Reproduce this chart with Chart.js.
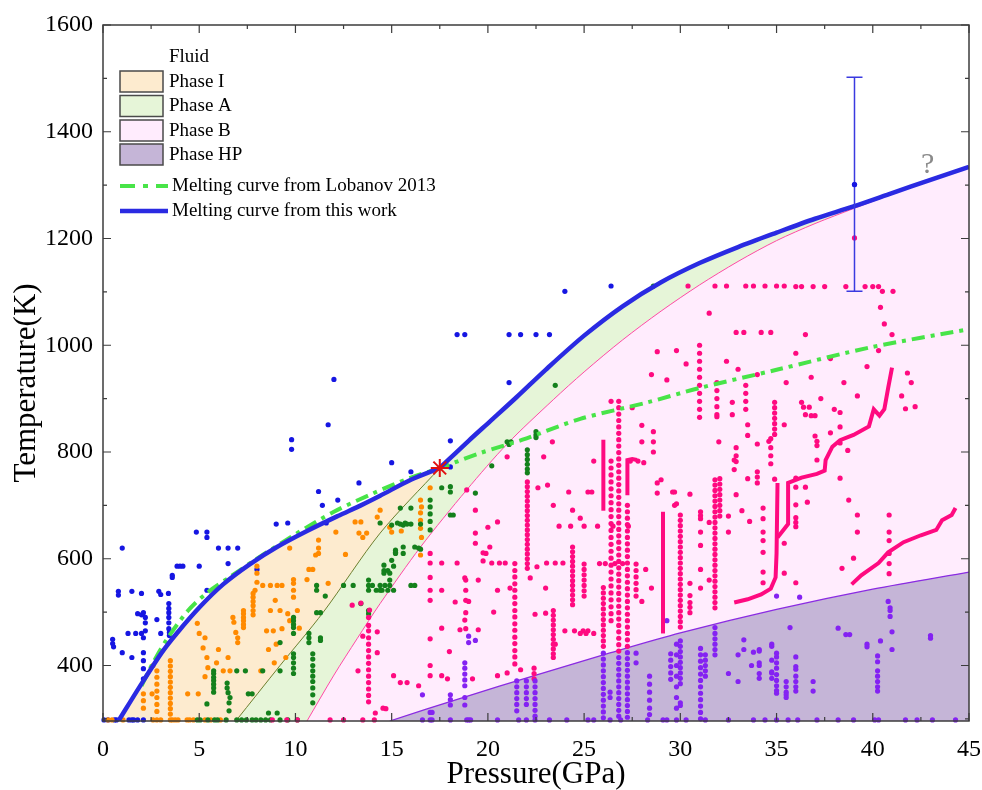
<!DOCTYPE html>
<html>
<head>
<meta charset="utf-8">
<script src="https://cdn.jsdelivr.net/npm/chart.js@4.4.0/dist/chart.umd.min.js"></script>
<style>
  html, body { margin: 0; background: #fff; }
  canvas { display: block; }
</style>
</head>
<body>
<canvas id="phase-chart" width="982" height="790"></canvas>
<script>
'use strict';

// axes
const xTicks = [0, 5, 10, 15, 20, 25, 30, 35, 40, 45];
const yTicks = [400, 600, 800, 1000, 1200, 1400, 1600];

// boundary curves, [P (GPa), T (K)]
const meltThisWorkLow = [[0.8,296],[1.9,360],[3.07,425],[3.85,461],[5.04,510],[6.24,552],[7.64,590],[9.04,622],[10.6,652],[12.2,680],[13.4,700],[14.4,718],[16.0,748],[17.5,770]];
const meltThisWorkHigh = [[17.5,770],[19,821],[20.1,857],[21.5,903],[23,954],[25,1018],[27,1073],[29,1118],[31,1154],[33,1184],[35,1211],[37,1237],[39,1260],[41,1285],[43,1310],[45,1334]];
const meltLobanov = [[2.0,362],[2.6,405],[3.3,448],[4.4,502],[5.4,536],[6.6,566],[8.0,600],[10.0,646],[12.0,688],[14.0,722],[16.0,752],[17.5,770],[19.6,798],[21.8,823],[24.8,862],[28.3,893],[31,920],[35,954],[40,997],[45,1030]];
const boundaryIA = [[6.9,296],[9.2,400],[11.45,500],[14.4,648],[17.5,770]];
const boundaryAB = [[10.6,296],[12,382],[13.2,450],[14.4,516],[16.5,622],[18.9,729],[21,815],[23.4,898],[25,950],[27,1010],[29,1064],[31,1113],[33,1157],[35,1196],[37,1228],[39,1256],[41,1283],[43,1309],[45,1334]];
const boundaryBHP = [[14.9,296],[18.7,340],[22.5,382],[26.3,423],[30,461],[35,505],[40,543],[45,575]];
const triplePoint = [[17.5,770]];
const errPoint = [39.05, 1301, 1101, 1502]; // P, T, Tlow, Thigh

// measured points
const fluidPts = [[0.05,298],[0.26,298],[0.6,298],[0.7,298],[1.35,298],[1.5,298],[1.6,298],[1.8,298],[2.1,298],
  [0.5,449],[0.5,441],[0.55,435],[1.0,424],[1.5,415],[2.1,424],[2.1,409],[2.1,394],[2.1,375],
  [1.3,460],[1.7,460],[2.0,460],[2.1,452],[3.0,460],[1.8,497],[2.0,495],[2.1,499],[2.2,490],[2.2,480],[2.2,465],[2.8,486],
  [3.42,516],[3.42,507],[3.42,499],[3.42,490],[3.42,480],[3.42,469],[3.45,462],[3.45,456],
  [0.8,539],[0.8,532],[1.5,539],[2.0,535],[2.9,539],[3.0,533],[3.4,535],
  [3.6,569],[3.6,565],[3.85,586],[4.0,586],[4.15,586],[5.0,586],[5.4,541],
  [1.0,620],[4.85,650],[5.4,650],[5.4,640],[6.0,620],[6.5,620],[7.0,620],[6.5,591],[8.0,580],
  [9.0,665],[9.6,667],[11.6,667],[11.4,700],[12.2,710],[11.2,726],
  [9.8,823],[9.8,805],[11.7,851],[12.0,936],[13.3,742],[15.0,780],[16.0,763],[18.05,821],[18.05,772],
  [18.4,1020],[18.8,1020],[21.1,1020],[21.7,1020],[22.5,1020],[23.2,1020],[21.1,930],[24.0,1101],[26.4,1111],[39.05,1301]];

const phaseIPts = [[0.26,298],[0.47,298],[1.04,298],[2.6,298],[2.8,298],[3.0,298],[3.5,298],[3.6,298],[3.75,298],[3.9,298],[4.37,298],[4.5,298],[4.7,298],[5.3,298],[5.6,298],[6.1,298],
  [2.1,347],[2.1,334],[2.1,320],[2.55,347],[2.6,400],
  [4.4,347],[4.95,347],[4.9,479],[5.0,460],[5.3,452],[5.2,433],[5.4,415],[5.45,396],[5.3,379],
  [6.25,390],[6.6,390],[8.2,390],[6.9,462],[7.0,452],[7.0,443],[6.75,490],[6.8,481],[6.0,430],[6.5,415],[5.9,405],
  [7.9,541],[8.3,550],[8.7,550],[9.05,550],[9.3,550],[8.0,556],[8.0,573],[8.0,586],
  [9.7,620],[10.9,580],[10.7,580],[9.9,561],[9.9,554],[10.6,561],[11.7,554],[9.9,541],[9.9,528],[8.95,522],
  [8.5,465],[8.85,465],[9.3,469],[8.7,503],[9.2,503],[9.6,497],[10.1,503],[9.7,484],
  [8.6,430],[9.0,440],[9.5,415],[8.9,405],[10.2,470],
  [11.2,635],[11.2,620],[11.2,610],[11.05,607],[12.6,608],[12.1,650],
  [13.1,669],[13.4,669],[13.3,648],[13.5,640],[13.7,648],[14.25,678],[14.4,691],
  [17.0,733],[16.5,710],[16.55,697],[16.5,686],[16.5,672],[16.5,657],[16.55,640],[15.0,650],[15.5,652],[14.9,659],[16.5,607]];
const phaseICols = [[2.8,[390,378,365,352,340,327,314]],[3.5,[409,399,389,379,369,359,349,339,329,319,309]],
  [7.3,[503,497,490,484,477,471]],[7.8,[535,528,520,512,503,495]]];

const phaseAPts = [[4.9,298],[5.05,298],[5.45,298],[5.8,298],[5.95,298],[6.4,298],[6.95,298],[7.2,298],[7.45,298],[7.75,298],[7.95,298],[8.2,298],[8.45,298],[8.7,298],[9.2,298],[9.6,298],[10.1,298],
  [5.4,328],[6.5,349],[6.6,340],[6.55,330],[6.55,315],[7.55,347],[7.75,347],[8.6,311],[9.05,311],
  [6.95,390],[7.4,390],[8.3,390],[9.2,390],[9.2,443],[11.3,452],[11.3,447],
  [11.1,550],[11.1,541],[11.55,530],[11.1,499],[11.3,499],[12.5,550],[13.0,550],
  [13.8,560],[13.8,550],[13.8,541],[14.0,550],[14.2,541],[14.4,541],[14.65,550],[14.9,550],[15.1,541],
  [13.4,516],[13.8,503],[13.8,497],[14.6,588],[14.6,578],[14.8,578],[15.2,616],[15.2,612],[15.6,610],
  [14.4,667],[15.0,663],[15.3,667],[15.6,663],[15.7,667],
  [15.45,695],[16.0,695],[16.0,665],[15.45,665],[15.8,665],[16.5,665],
  [17.6,733],[18.05,735],[18.05,725],[18.05,682],[18.2,682],[19.35,723],[20.2,774],
  [16.2,622],[16.4,620],[16.5,618],[15.6,622],[15.2,610],
  [15.0,597],[15.1,586],[14.9,573],[14.6,573],[14.9,560],[14.4,550],[14.5,541],[14.8,541],[16.0,550],[16.2,550],
  [21.0,819],[21.1,814],[21.2,819],[22.5,838],[22.5,832],[22.5,827],[23.5,925],[28.6,1111]];
const phaseACols = [[5.75,[390,385,378,372,365,358,350]],[6.45,[367,358]],[9.9,[490,484,477,471,460,422,415,405,395,385]],
  [10.7,[460,452,443]],[10.9,[422,412,400,390,380,370,358,345,330]],[17.0,[710,697,684,670,654]],[22.05,[804,795,786,777,768,761]]];

const phaseBPts = [[8.8,298],[9.55,298],[10.1,298],[11.8,298],[12.5,298],[13.5,298],[14.1,298],
  [12.95,513],[13.4,517],[13.85,504],[13.5,455],[14.25,463],[13.25,390],[14.25,424],[14.15,311],[14.55,320],[15.45,368],
  [17.6,541],[17.6,470],[17.6,381],[18.9,729],[19.35,691],[19.35,648],[19.35,629],
  [20.0,659],[20.5,669],[20.1,622],[19.9,610],[20.2,592],[20.9,592],[19.5,560],[20.5,541],[18.3,519],[19.0,520],[20.3,500],
  [15.1,381],[15.8,368],[16.4,362],[14.7,319],[17.9,375],[19.2,375],[20.5,381],[18.0,426],[18.8,485],[18.55,467],[19.5,467],
  [17.6,592],[18.4,592],[18.8,564],[19.75,611],[19.75,596],[20.6,592],[21.15,545],[22.2,564],[22.55,585],[23.0,545],[23.05,592],
  [23.5,592],[23.9,592],[22.45,496],[23.0,498],[24.0,465],[24.5,465],[24.95,465],[25.2,465],[21.0,386],[21.7,392],
  [23.35,819],[22.9,791],[23.1,738],[22.6,733],[21.0,791],[23.4,700],[24.2,725],[25.2,725],[25.4,725],[24.4,691],[24.8,676],
  [23.7,661],[24.3,661],[25.0,661],[25.7,661],[26.5,661],[27.3,661],
  [25.5,783],[27.4,783],[27.8,783],[28.1,780],[28.0,819],[28.0,850],[27.5,883],[26.4,895],
  [28.8,742],[28.8,723],[29.0,748],[29.7,725],[29.7,700],[25.8,591],[26.1,591],[26.6,591],[27.0,591],[28.2,580],[28.5,545],[28.0,520],
  [24.8,460],[25.1,460],[25.5,460],[23.5,440],
  [29.6,725],[29.8,703],[30.5,721],[30.5,554],[30.5,531],[30.5,518],[30.5,509],[30.5,499],
  [31.5,668],[31.5,560],[32.5,680],[32.5,650],[31.9,866],[32.0,819],[32.7,893],[32.7,870],[32.8,785],[32.8,767],
  [32.9,808],[32.9,793],[32.9,782],[32.9,720],[33.5,851],[33.5,831],[33.5,750],[34.0,815],[34.0,763],[34.0,753],[34.0,742],
  [34.7,825],[34.6,820],[34.7,808],[34.7,793],[34.7,778],[34.9,749],[35.4,851],[35.4,629],[35.4,573],
  [36.0,751],[36.0,734],[36.0,701],[36.0,677],[36.0,668],[36.0,660],[36.0,555],[36.3,893],[36.4,884],[36.5,870],[36.5,734],[36.6,706],
  [36.7,884],[36.8,868],[37.0,868],[37.0,830],[37.1,820],[37.1,812],[37.1,785],[37.8,836],[38.3,874],[38.3,847],[38.3,817],[38.3,751],
  [38.4,582],[38.7,803],[38.75,710],[39.0,601],[39.2,682],[39.2,650],[41.7,881],[33.2,690],[33.6,670],
  [30.4,1111],[31.8,1111],[32.4,1111],[33.4,1111],[33.8,1111],[34.4,1111],[35.0,1111],[35.4,1111],
  [36.0,1110],[36.3,1110],[36.9,1110],[37.5,1110],[38.6,1110],[39.6,1110],[40.0,1110],[40.3,1110],[40.5,1101],[41.05,1101],[40.4,1071],[39.05,1201],
  [32.9,1024],[33.3,1024],[34.2,1024],[34.7,1024],[31.5,1060],[28.8,988],[28.5,945],[29.3,935],
  [29.8,990],[30.3,965],[32.4,970],[33.0,955],[34.0,945],[35.5,930],[36.0,985],[36.8,940],[37.3,900],[38.0,880],[38.5,930],
  [39.2,905],[39.7,960],[40.3,990],[41.0,1020],[41.8,948],[42.0,930],[41.5,905],[42.2,885],[40.6,1040],[36.5,1020],[37.8,975]];
const phaseBCols = [[17.0,[610,592,565,541,522,450,400,381]],[18.85,[560,541,522,499,469]],
  [13.8,[490,475,465,452,440,428,416,404,392,380,368,356,344,332]],
  [21.4,[591,578,566,553,541,528,516,503,491,478,466,453,441,428,416,403]],
  [22.05,[744,735,726,717,708,699,690,681,672,663,654,645,636,627,618,609,600,591,582]],
  [22.4,[395,385,375]],[23.4,[503,494,485,476,467,458,449,440,431,422,415]],
  [24.4,[622,613,604,595,586,577,568,559,550,541,532,523,514]],[25.0,[590,580,570,560,550,540,530]],
  [26.0,[546,536,526,516,506,496,486,476,466,456,446,436]],
  [26.4,[783,770,757,744,731,718,705,692,679,666,653,640,627,614,601,588,575,562,549,536,523,510,497,484]],
  [26.8,[895,883,871,859,847,835,823,811,799,787,775,763,751,739,727,715,703,691,679,667,655,643,631,619,607,595,583,571,559,547,535,523,511,499,487,475,463,451,439,427]],
  [27.25,[700,688,676,664,652,640,628,616,604,592,580,568,556,544,532,520,508,496,484,472,460,448,436]],
  [27.7,[590,578,566,554,542,530]],[28.6,[838,819,800]],
  [30.0,[682,672,662,652,642,632,622,612,602,592,582,572,562,552,542,532,522,512,502,492,482,472]],
  [31.05,[688,681,675,650,625,580,545]],
  [31.0,[1000,985,970,955,940,925,910,895,880,865]],[31.9,[930,915,900,885,870]],[33.4,[925,910,895,880]],
  [31.8,[748,738,728,718,708,698,688,678,668,658,648,638,628,618,608,598,588,578,568,558,548,538,528,518,508]],
  [32.05,[750,740,730,720,710,700,690,680]],[34.3,[695,675,650,634,612,575,555]],
  [34.9,[893,883,873,863,853,843,833]],[40.85,[682,650,634,610,591,572]]];
// dense runs of points that read as thick strokes
const phaseBRuns = [
  [[26.0,690],[26.0,823]],
  [[27.25,719],[27.25,785],[27.5,787],[27.75,785]],
  [[29.1,460],[29.1,688]],
  [[32.8,518],[33.5,524],[34.2,533],[34.7,544],[34.95,565],[35.0,610],[35.05,742]],
  [[35.05,640],[35.6,665],[35.6,742],[36.3,752],[37.1,759],[37.5,765],[37.55,785],[37.9,810],[38.3,822],[39.0,832],[39.8,848],[40.05,880],[40.35,868],[40.6,880],[40.8,920],[41.0,958]],
  [[38.9,552],[39.4,569],[40.3,592],[40.8,612],[41.6,631],[42.5,644],[43.3,654],[43.6,672],[44.1,682],[44.3,695]]
];

const phaseHPPts = [[16.6,298],[17.0,298],[17.1,298],[18.05,298],[18.9,298],[19.0,298],[19.1,298],[20.5,298],[21.6,298],[22.0,298],[22.45,298],
  [23.2,298],[24.1,298],[25.2,298],[25.5,298],[26.35,298],[26.9,298],[28.3,298],[29.3,298],[29.8,298],
  [29.1,298],[30.3,298],[31.3,298],[32.5,298],[33.8,298],[34.4,298],[35.0,298],[35.6,298],[36.1,298],[37.1,298],[38.2,298],[39.0,298],[40.1,298],[40.3,298],[41.7,298],[42.3,298],[43.1,298],[44.3,298],
  [16.6,345],[17.0,312],[17.1,312],[19.0,455],[19.35,447],[19.0,443],[29.3,484],[26.35,350],[26.35,340],[27.7,423],[27.7,405],
  [32.5,385],[33.0,420],[33.0,370],[33.3,448],[33.3,430],[33.7,400],[33.8,425],[35.7,471],[36.2,528],[38.2,470],[38.6,458],[38.8,458],
  [39.7,440],[39.7,435],[40.4,446],[40.8,520],[41.0,463],[41.0,430],[43.0,456],[43.0,451]];
const phaseHPCols = [[18.05,[345,336,326]],[18.8,[405,395,384,373,362,340,326]],[21.5,[371,360,349,338,327,315]],
  [22.0,[371,360,349,338,327]],[22.45,[371,360,349,338,327,316,305]],
  [26.0,[423,412,401,390,379,368,357,346,335,324,313,302]],[26.8,[415,404,393,382,371,360,349,338,327,316,305]],
  [27.25,[424,413,402,391,380,369,358,347,336,325,314,303]],[28.4,[380,365,350,335,320,308]],
  [29.5,[422,410,398,386,374]],[29.8,[440,420,400,380,360,340,320]],[30.0,[446,436,426,416,406,396,386,376,366,330,325]],
  [31.05,[432,420,408,396,384,372,360,348,336,324,312,300]],[31.3,[420,410,400,390,380]],[31.8,[471,460,450,440,430,420]],
  [34.1,[430,427,405,400,385,376]],[34.75,[440,436,410,388,386,376]],[35.0,[530,423,416,405,395,383,372,362,353,348]],
  [35.5,[370,360,350,345,340]],[36.0,[416,398,393,380,370,360,352]],[36.9,[370,352]],
  [40.25,[418,407,390,380,370,360,352]],[40.9,[508,503,492]]];

const legendItems = ['Fluid', 'Phase I', 'Phase A', 'Phase B', 'Phase HP'];
const legendLines = ['Melting curve from Lobanov 2013', 'Melting curve from this work'];

const SERIF = '"Liberation Serif", "Times New Roman", serif';
const C = {
  fluid: '#1616e2', phI: '#ff8a00', phA: '#14801c', phB: '#ff0a80', phHP: '#8422f2',
  fillI: '#fdebcf', fillA: '#e6f5d8', fillB: '#ffecfd', fillHP: '#c5b5d7',
  melt: '#2a2ae2', lob: '#48e448', lineIA: '#6e7f2e', lineAB: '#ff4aa5', lineBHP: '#8a2be2'
};

const xy = arr => arr.map(([x, y]) => ({ x, y }));
const cols = list => list.flatMap(([p, ts]) => ts.map(t => ({ x: p, y: t })));

function area(data, color, order) {
  return { type: 'line', data: xy(data), backgroundColor: color, borderWidth: 0, pointRadius: 0, fill: 'start', tension: 0.3, order };
}
function curve(data, color, width, order, dash) {
  return { type: 'line', data: xy(data), borderColor: color, borderWidth: width, borderDash: dash || [], pointRadius: 0, fill: false, tension: 0.3, order };
}
function dots(data, color, order) {
  return { type: 'scatter', data, backgroundColor: color, borderWidth: 0, pointRadius: 2.6, pointHoverRadius: 2.6, clip: false, order };
}

const datasets = [
  area(meltThisWorkLow, C.fillI, 100),
  area(boundaryIA.concat(meltThisWorkHigh.slice(1)), C.fillA, 90),
  area(boundaryAB, C.fillB, 80),
  area(boundaryBHP, C.fillHP, 70),
  curve(boundaryIA, C.lineIA, 1, 60),
  curve(boundaryAB, C.lineAB, 1, 59),
  curve(boundaryBHP, C.lineBHP, 1.3, 58),
  dots(xy(fluidPts), C.fluid, 50),
  dots(xy(phaseIPts).concat(cols(phaseICols)), C.phI, 49),
  dots(xy(phaseAPts).concat(cols(phaseACols)), C.phA, 48),
  dots(xy(phaseBPts).concat(cols(phaseBCols)), C.phB, 47),
  dots(xy(phaseHPPts).concat(cols(phaseHPCols)), C.phHP, 46),
  ...phaseBRuns.map(run => ({ type: 'line', data: xy(run), borderColor: C.phB, borderWidth: 4, pointRadius: 0, fill: false, tension: 0, order: 30 })),
  curve(meltLobanov, C.lob, 4, 20, [13, 6, 4, 6]),
  curve(meltThisWorkLow, C.melt, 4.5, 10),
  curve(meltThisWorkHigh, C.melt, 4.5, 10),
  { type: 'scatter', data: xy(triplePoint), pointStyle: 'star', pointRadius: 9, borderColor: '#e01010', borderWidth: 2, backgroundColor: '#e01010', order: 0 }
];

const decorPlugin = {
  id: 'decor',
  afterDraw(chart) {
    const { ctx, chartArea: a, scales: { x, y } } = chart;
    ctx.save();
    // error bar
    const ex = x.getPixelForValue(errPoint[0]);
    const y1 = y.getPixelForValue(errPoint[2]), y2 = y.getPixelForValue(errPoint[3]);
    ctx.strokeStyle = '#3a3ae0'; ctx.lineWidth = 1.5;
    ctx.beginPath();
    ctx.moveTo(ex, y1); ctx.lineTo(ex, y2);
    ctx.moveTo(ex - 8, y1); ctx.lineTo(ex + 8, y1);
    ctx.moveTo(ex - 8, y2); ctx.lineTo(ex + 8, y2);
    ctx.stroke();
    ctx.fillStyle = C.fluid;
    ctx.beginPath(); ctx.arc(ex, y.getPixelForValue(errPoint[1]), 2.6, 0, Math.PI * 2); ctx.fill();

    // question mark near the high-pressure end
    ctx.fillStyle = '#8a8a8a';
    ctx.font = '30px ' + SERIF;
    ctx.textAlign = 'center'; ctx.textBaseline = 'alphabetic';
    ctx.fillText('?', x.getPixelForValue(42.85), y.getPixelForValue(1323));

    // frame + inward ticks on all sides
    ctx.strokeStyle = '#3c3c3c'; ctx.lineWidth = 1.5;
    ctx.strokeRect(a.left, a.top, a.right - a.left, a.bottom - a.top);
    ctx.lineWidth = 1.2;
    ctx.beginPath();
    for (let v = 0; v <= 45; v += 2.5) {
      const px = x.getPixelForValue(v), len = v % 5 === 0 ? 8 : 4;
      ctx.moveTo(px, a.bottom); ctx.lineTo(px, a.bottom - len);
      ctx.moveTo(px, a.top); ctx.lineTo(px, a.top + len);
    }
    for (let v = 300; v <= 1600; v += 100) {
      const py = y.getPixelForValue(v), len = v % 200 === 0 ? 8 : 4;
      ctx.moveTo(a.left, py); ctx.lineTo(a.left + len, py);
      ctx.moveTo(a.right, py); ctx.lineTo(a.right - len, py);
    }
    ctx.stroke();

    // axis titles
    ctx.fillStyle = '#000';
    ctx.font = '31px ' + SERIF;
    ctx.textAlign = 'center'; ctx.textBaseline = 'alphabetic';
    ctx.fillText('Pressure(GPa)', (a.left + a.right) / 2, 783);
    ctx.save();
    ctx.translate(35, 383); ctx.rotate(-Math.PI / 2);
    ctx.fillText('Temperature(K)', 0, 0);
    ctx.restore();

    // legend
    ctx.font = '19px ' + SERIF;
    ctx.textAlign = 'left'; ctx.textBaseline = 'middle';
    ctx.fillStyle = '#000';
    ctx.fillText(legendItems[0], 169, 57);
    const swFill = [C.fillI, C.fillA, C.fillB, C.fillHP];
    const swTop = [71, 95.5, 120, 144];
    swFill.forEach((f, i) => {
      ctx.fillStyle = f;
      ctx.fillRect(120, swTop[i], 43, 21);
      ctx.strokeStyle = '#4a4a4a'; ctx.lineWidth = 1.5;
      ctx.strokeRect(120, swTop[i], 43, 21);
      ctx.fillStyle = '#000';
      ctx.fillText(legendItems[i + 1], 169, swTop[i] + 11);
    });
    ctx.lineWidth = 4; ctx.strokeStyle = C.lob; ctx.setLineDash([15, 8, 5, 8]);
    ctx.beginPath(); ctx.moveTo(120, 186); ctx.lineTo(168, 186); ctx.stroke();
    ctx.setLineDash([]);
    ctx.lineWidth = 4.5; ctx.strokeStyle = C.melt;
    ctx.beginPath(); ctx.moveTo(120, 211); ctx.lineTo(168, 211); ctx.stroke();
    ctx.fillStyle = '#000';
    ctx.fillText(legendLines[0], 172, 186);
    ctx.fillText(legendLines[1], 172, 211);
    ctx.restore();
  }
};

Chart.defaults.font.family = SERIF;
Chart.defaults.color = '#000';

new Chart(document.getElementById('phase-chart'), {
  type: 'scatter',
  data: { datasets },
  options: {
    responsive: false,
    animation: false,
    devicePixelRatio: 1,
    events: [],
    layout: { padding: { top: 25, right: 13, left: 0, bottom: 0 } },
    plugins: { legend: { display: false }, tooltip: { enabled: false } },
    scales: {
      x: {
        type: 'linear', min: 0, max: 45,
        afterFit: s => { s.height = 69; s.paddingLeft = 0; s.paddingRight = 0; },
        afterBuildTicks: s => { s.ticks = xTicks.map(v => ({ value: v })); },
        grid: { display: false, drawTicks: false },
        border: { display: false },
        ticks: { font: { size: 24 }, color: '#000', padding: 14, maxRotation: 0, callback: v => String(v) }
      },
      y: {
        type: 'linear', min: 296, max: 1600,
        afterFit: s => { s.width = 103; s.paddingTop = 0; s.paddingBottom = 0; },
        afterBuildTicks: s => { s.ticks = yTicks.map(v => ({ value: v })); },
        grid: { display: false, drawTicks: false },
        border: { display: false },
        ticks: { font: { size: 24 }, color: '#000', padding: 10, callback: v => String(v) }
      }
    }
  },
  plugins: [decorPlugin]
});
</script>
</body>
</html>
